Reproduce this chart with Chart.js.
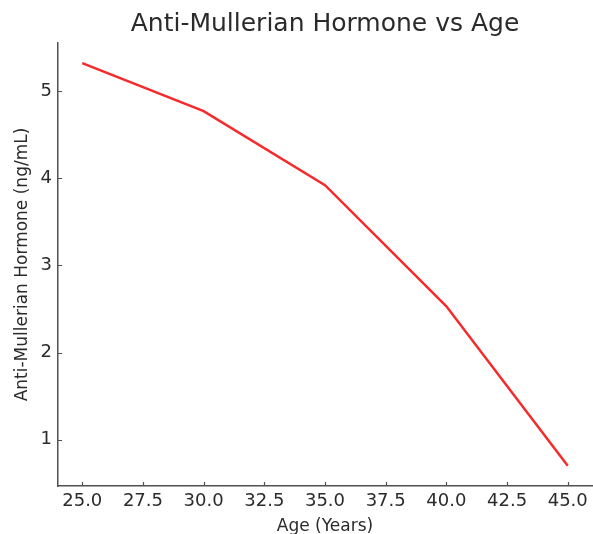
<!DOCTYPE html>
<html>
<head>
<meta charset="utf-8">
<title>Anti-Mullerian Hormone vs Age</title>
<script src="https://cdn.jsdelivr.net/npm/chart.js@4/dist/chart.umd.min.js"></script>
<style>
  html, body { margin: 0; padding: 0; background: #ffffff; }
  #wrap { width: 593px; height: 534px; }
</style>
</head>
<body>
<div id="wrap"><canvas id="amhChart" width="593" height="534"></canvas></div>
<script>
// Data
const ages = [25, 30, 35, 40, 45];
const amhValues = [5.32, 4.77, 3.92, 2.53, 0.70];

// Tick labels
const xTickValues = [25, 27.5, 30, 32.5, 35, 37.5, 40, 42.5, 45];
const yTickValues = [1, 2, 3, 4, 5];

const TEXT_COLOR = '#2b2b2b';
const SPINE_COLOR = '#505050';
const LINE_COLOR = '#f52a2a';
const FONT_FAMILY = '"DejaVu Sans", sans-serif';

/**
 * Draw short inward tick marks (matplotlib style)
 */
const inwardTicks = {
  id: 'inwardTicks',
  afterDraw(chart) {
    const ctx = chart.ctx;
    const xScale = chart.scales.x;
    const yScale = chart.scales.y;
    const area = chart.chartArea;
    const len = 4;

    ctx.save();
    ctx.strokeStyle = SPINE_COLOR;
    ctx.lineWidth = 1.2;
    ctx.beginPath();
    xTickValues.forEach(v => {
      const px = Math.round(xScale.getPixelForValue(v)) + 0.5;
      ctx.moveTo(px, area.bottom);
      ctx.lineTo(px, area.bottom - len);
    });
    yTickValues.forEach(v => {
      const py = Math.round(yScale.getPixelForValue(v)) + 0.5;
      ctx.moveTo(area.left, py);
      ctx.lineTo(area.left + len, py);
    });
    ctx.stroke();
    ctx.restore();
  }
};

const ctx = document.getElementById('amhChart').getContext('2d');

new Chart(ctx, {
  type: 'line',
  data: {
    datasets: [{
      label: 'AMH',
      data: ages.map((a, i) => ({ x: a, y: amhValues[i] })),
      borderColor: LINE_COLOR,
      borderWidth: 2.5,
      pointRadius: 0,
      tension: 0,
      fill: false
    }]
  },
  options: {
    responsive: false,
    animation: false,
    devicePixelRatio: 1,
    layout: {
      padding: { left: 0, right: 1, top: 0, bottom: 0 }
    },
    plugins: {
      legend: { display: false },
      tooltip: { enabled: false },
      title: {
        display: true,
        text: 'Anti-Mullerian Hormone vs Age',
        fullSize: false,
        color: TEXT_COLOR,
        font: { family: FONT_FAMILY, size: 25, weight: 'normal' },
        padding: { top: 9, bottom: 4 }
      }
    },
    scales: {
      x: {
        type: 'linear',
        min: 24,
        max: 46,
        afterBuildTicks: scale => {
          scale.ticks = xTickValues.map(v => ({ value: v }));
        },
        afterFit: scale => {
          scale.height = 48;
        },
        grid: { display: false, drawTicks: false },
        border: { display: true, color: SPINE_COLOR, width: 1.5 },
        ticks: {
          color: TEXT_COLOR,
          font: { family: FONT_FAMILY, size: 18 },
          padding: 5,
          maxRotation: 0,
          autoSkip: false,
          callback: v => Number(v).toFixed(1)
        },
        title: {
          display: true,
          text: 'Age (Years)',
          color: TEXT_COLOR,
          font: { family: FONT_FAMILY, size: 17 },
          padding: { top: -3, bottom: -3 }
        }
      },
      y: {
        type: 'linear',
        min: 0.469,
        max: 5.551,
        afterBuildTicks: scale => {
          scale.ticks = yTickValues.map(v => ({ value: v }));
        },
        afterFit: scale => {
          scale.width = 58;
        },
        grid: { display: false, drawTicks: false },
        border: { display: true, color: SPINE_COLOR, width: 1.5 },
        ticks: {
          color: TEXT_COLOR,
          font: { family: FONT_FAMILY, size: 18 },
          padding: 6,
          autoSkip: false,
          callback: v => String(v)
        },
        title: {
          display: true,
          text: 'Anti-Mullerian Hormone (ng/mL)',
          color: TEXT_COLOR,
          font: { family: FONT_FAMILY, size: 17 },
          padding: { top: 12, bottom: 0 }
        }
      }
    }
  },
  plugins: [inwardTicks]
});
</script>
</body>
</html>
